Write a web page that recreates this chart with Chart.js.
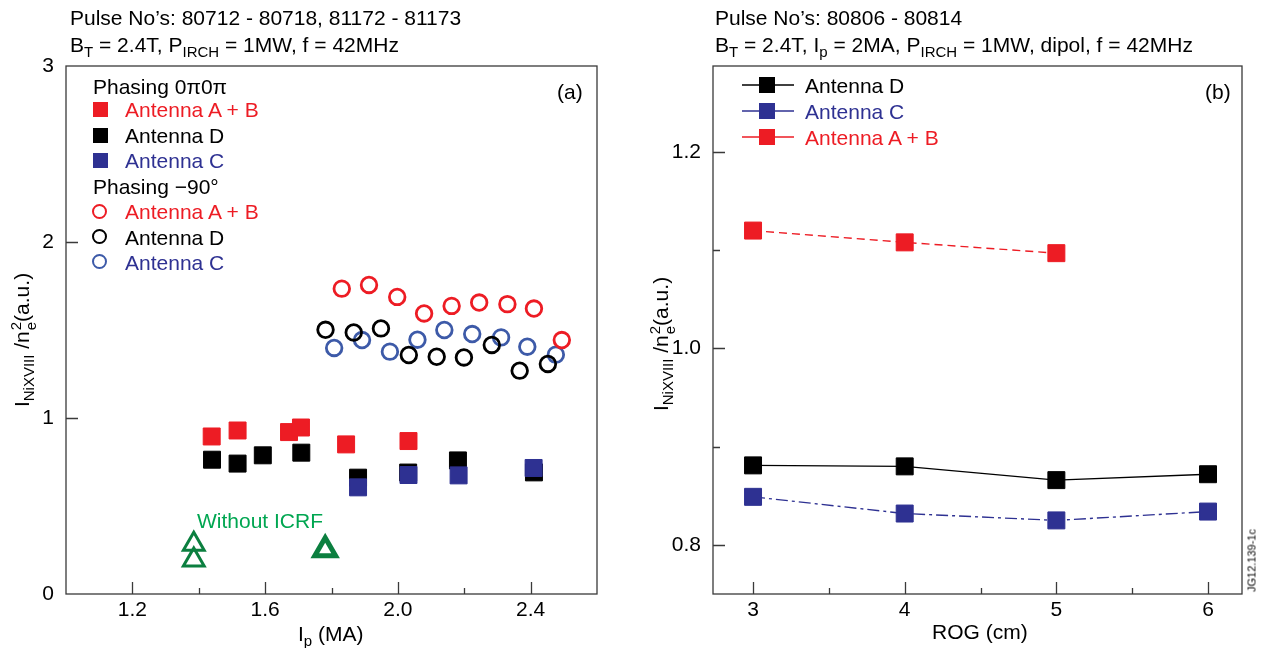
<!DOCTYPE html>
<html><head><meta charset="utf-8">
<script src="https://cdn.jsdelivr.net/npm/chart.js@4.4.0/dist/chart.umd.min.js"></script>
<style>
body{margin:0;width:1265px;height:648px;background:#fff;overflow:hidden;position:relative;font-family:"Liberation Sans",Arial,Helvetica,sans-serif}
canvas{position:absolute;top:0}
.t{position:absolute;font-size:21px;line-height:21px;color:#000;white-space:nowrap}
.s{font-size:15px;position:relative;top:5px}
.stack{display:inline-block;font-size:15px;line-height:15px;vertical-align:-7px;margin-left:1px}
.stack span{display:block}
.red{color:#ED1C24}.blu{color:#2E3192}.grn{color:#00A651}
.sq{position:absolute;width:15px;height:15px}
.ci{position:absolute;width:11px;height:11px;border:2px solid;border-radius:50%}
.rot{position:absolute;width:240px;text-align:center;transform:rotate(-90deg);font-size:21px;line-height:21px;white-space:nowrap}
</style></head>
<body>
<canvas id="ca" width="640" height="648" style="left:0"></canvas>
<canvas id="cb" width="625" height="648" style="left:640px"></canvas>

<!-- titles -->
<div class="t" style="left:70px;top:7px">Pulse No’s: 80712 - 80718, 81172 - 81173</div>
<div class="t" style="left:70px;top:34px">B<span class="s">T</span> = 2.4T, P<span class="s">IRCH</span> = 1MW, f = 42MHz</div>
<div class="t" style="left:715px;top:7px">Pulse No’s: 80806 - 80814</div>
<div class="t" style="left:715px;top:34px">B<span class="s">T</span> = 2.4T, I<span class="s">p</span> = 2MA, P<span class="s">IRCH</span> = 1MW, dipol, f = 42MHz</div>

<div class="t" style="left:557px;top:81px">(a)</div>
<div class="t" style="left:1205px;top:81px">(b)</div>

<!-- legend panel a -->
<div class="t" style="left:93px;top:76px">Phasing 0π0π</div>
<div class="sq" style="left:93px;top:102px;background:#ED1C24"></div>
<div class="t red" style="left:125px;top:99px">Antenna A + B</div>
<div class="sq" style="left:93px;top:128px;background:#000"></div>
<div class="t" style="left:125px;top:125px">Antenna D</div>
<div class="sq" style="left:93px;top:153px;background:#2E3192"></div>
<div class="t blu" style="left:125px;top:150px">Antenna C</div>
<div class="t" style="left:93px;top:176px">Phasing −90°</div>
<div class="ci" style="left:92px;top:204px;border-color:#ED1C24"></div>
<div class="t red" style="left:125px;top:201px">Antenna A + B</div>
<div class="ci" style="left:92px;top:229px;border-color:#000"></div>
<div class="t" style="left:125px;top:227px">Antenna D</div>
<div class="ci" style="left:92px;top:254px;border-color:#3D5AA8"></div>
<div class="t blu" style="left:125px;top:252px">Antenna C</div>

<div class="t grn" style="left:197px;top:510px">Without ICRF</div>

<!-- legend panel b -->
<svg style="position:absolute;left:742px;top:75px" width="52" height="20"><line x1="0" y1="10" x2="52" y2="10" stroke="#000" stroke-width="1.4"/><rect x="17" y="2" width="16" height="16" fill="#000"/></svg>
<div class="t" style="left:805px;top:75px">Antenna D</div>
<svg style="position:absolute;left:742px;top:101px" width="52" height="20"><line x1="0" y1="10" x2="52" y2="10" stroke="#2E3192" stroke-width="1.4"/><rect x="17" y="2" width="16" height="16" fill="#2E3192"/></svg>
<div class="t blu" style="left:805px;top:101px">Antenna C</div>
<svg style="position:absolute;left:742px;top:127px" width="52" height="20"><line x1="0" y1="10" x2="52" y2="10" stroke="#ED1C24" stroke-width="1.4"/><rect x="17" y="2" width="16" height="16" fill="#ED1C24"/></svg>
<div class="t red" style="left:805px;top:127px">Antenna A + B</div>

<!-- axis titles -->
<div class="t" style="left:298px;top:623px">I<span class="s">p</span> (MA)</div>
<div class="t" style="left:932px;top:621px">ROG (cm)</div>
<div class="rot" style="left:-97px;top:325px">I<span class="s">NiXVIII</span> /n<span class="stack"><span>2</span><span>e</span></span>(a.u.)</div>
<div class="rot" style="left:542px;top:329px">I<span class="s">NiXVIII</span> /n<span class="stack"><span>2</span><span>e</span></span>(a.u.)</div>
<div style="position:absolute;left:1212px;top:555px;width:80px;text-align:center;font-size:11px;line-height:11px;transform:rotate(-90deg);white-space:nowrap">JG12.139-1c</div>

<script>
// ---------- Panel (a) data: Ip (MA) vs I_NiXVIII/ne^2 ----------
const ipSqAB  = [1.439, 1.517, 1.672, 1.708, 1.844, 2.032];
const valSqAB = [0.895, 0.929, 0.920, 0.946, 0.850, 0.869];
const ipSqD   = [1.440, 1.517, 1.593, 1.709, 1.880, 2.031, 2.181, 2.410];
const valSqD  = [0.763, 0.741, 0.788, 0.803, 0.661, 0.690, 0.759, 0.691];
const ipSqC   = [1.880, 2.032, 2.183, 2.409];
const valSqC  = [0.606, 0.676, 0.674, 0.716];
const ipCiAB  = [1.831, 1.913, 1.998, 2.079, 2.162, 2.245, 2.330, 2.410, 2.494];
const valCiAB = [1.735, 1.756, 1.688, 1.594, 1.637, 1.656, 1.647, 1.622, 1.443];
const ipCiD   = [1.782, 1.867, 1.949, 2.033, 2.117, 2.199, 2.283, 2.367, 2.452];
const valCiD  = [1.501, 1.486, 1.509, 1.358, 1.348, 1.344, 1.415, 1.269, 1.307];
const ipCiC   = [1.808, 1.892, 1.976, 2.059, 2.140, 2.224, 2.311, 2.390, 2.476];
const valCiC  = [1.398, 1.443, 1.377, 1.445, 1.500, 1.477, 1.458, 1.405, 1.360];
const ipNoIcrf  = [1.385, 1.385, 1.781];
const valNoIcrf = [0.282, 0.193, 0.252];
const ipTicks = [1.2, 1.6, 2.0, 2.4];
const ipMinor = [1.4, 1.8, 2.2];
const yaTicks = [0, 1, 2, 3];

// ---------- Panel (b) data: ROG (cm) ----------
const rogCats = [3, 4, 5, 6];
const rogAB = [1.120, 1.108, 1.097];
const rogD  = [0.881, 0.880, 0.866, 0.872];
const rogC  = [0.849, 0.832, 0.825, 0.834];
const rogTicks = [3, 4, 5, 6];
const rogMinor = [3.5, 4.5, 5.5];
const ybTicks = [0.8, 1.0, 1.2];
const ybMinor = [0.9, 1.1];

const RED = '#ED1C24', BLK = '#000000', BLU = '#2E3192', BLU2 = '#3D5AA8', GRN = '#0B7F3F';
const FONT = {family: '"Liberation Sans", Arial, sans-serif', size: 21, lineHeight: 1};

const pts = (xs, ys) => xs.map((x, i) => ({x, y: ys[i]}));

function frame(xMaj, xMin, yMaj, yMin) {
  return {
    id: 'frame',
    beforeDatasetsDraw(chart) {
      const {ctx, chartArea: a, scales: {x, y}} = chart;
      ctx.save();
      ctx.strokeStyle = '#3a3a3a';
      ctx.lineWidth = 1.3;
      ctx.strokeRect(a.left, a.top, a.right - a.left, a.bottom - a.top);
      ctx.beginPath();
      const vx = (v, len) => { const p = Math.round(x.getPixelForValue(v)) + 0.5; ctx.moveTo(p, a.bottom); ctx.lineTo(p, a.bottom - len); };
      const vy = (v, len) => { const p = Math.round(y.getPixelForValue(v)) + 0.5; ctx.moveTo(a.left, p); ctx.lineTo(a.left + len, p); };
      xMaj.forEach(v => vx(v, 12)); xMin.forEach(v => vx(v, 6));
      yMaj.forEach(v => vy(v, 12)); yMin.forEach(v => vy(v, 7));
      ctx.stroke();
      ctx.restore();
    }
  };
}

function axes(xmin, xmax, xt, xfmt, ymin, ymax, yt, yfmt, yw) {
  return {
    x: {type: 'linear', min: xmin, max: xmax,
        grid: {display: false}, border: {display: false},
        afterBuildTicks: s => { s.ticks = xt.map(v => ({value: v})); },
        afterFit: s => { s.height = 54; },
        ticks: {color: '#000', font: FONT, padding: -2, maxRotation: 0, autoSkip: false, callback: xfmt}},
    y: {type: 'linear', min: ymin, max: ymax,
        grid: {display: false}, border: {display: false},
        afterBuildTicks: s => { s.ticks = yt.map(v => ({value: v})); },
        afterFit: s => { s.width = yw; },
        ticks: {color: '#000', font: FONT, padding: 4, autoSkip: false, callback: yfmt}}
  };
}

const common = {
  responsive: false, animation: false, devicePixelRatio: 1,
  plugins: {legend: {display: false}, tooltip: {enabled: false}}
};

// ---------- Chart (a) ----------
const sq = (label, data, color, order) => ({label, data, order, showLine: false, pointStyle: 'rect', pointRadius: 12,
  backgroundColor: color, borderColor: color, borderWidth: 1});
const ci = (label, data, color, order) => ({label, data, order, showLine: false, pointStyle: 'circle', pointRadius: 7.8,
  backgroundColor: 'rgba(0,0,0,0)', borderColor: color, borderWidth: 2.8});

new Chart(document.getElementById('ca'), {
  type: 'scatter',
  data: {datasets: [
    sq('0π0π Antenna A + B', pts(ipSqAB, valSqAB), RED, 1),
    sq('0π0π Antenna C', pts(ipSqC, valSqC), BLU, 2),
    sq('0π0π Antenna D', pts(ipSqD, valSqD), BLK, 3),
    ci('−90° Antenna A + B', pts(ipCiAB, valCiAB), RED, 4),
    ci('−90° Antenna D', pts(ipCiD, valCiD), BLK, 5),
    ci('−90° Antenna C', pts(ipCiC, valCiC), BLU2, 6),
    {label: 'Without ICRF', data: pts(ipNoIcrf, valNoIcrf), order: 7, showLine: false, pointStyle: 'triangle',
     pointRadius: 12, backgroundColor: 'rgba(0,0,0,0)', borderColor: GRN,
     pointBorderWidth: ctx => (ctx.dataIndex === 2 ? 5 : 3)}
  ]},
  options: {...common,
    layout: {padding: {left: 0, top: 66, right: 43, bottom: 0}},
    scales: axes(1.0, 2.6, ipTicks, v => v.toFixed(1), 0, 3, yaTicks, v => String(v), 66)},
  plugins: [frame(ipTicks, ipMinor, [1, 2], [])]
});

// ---------- Chart (b) ----------
const ln = (label, ys, color, dash, order) => ({label, data: pts(rogCats, ys), order, showLine: true,
  borderColor: color, backgroundColor: color, borderWidth: 1.4, borderDash: dash,
  pointStyle: 'rect', pointRadius: 12, pointBorderWidth: 1, pointBackgroundColor: color, pointBorderColor: color});

new Chart(document.getElementById('cb'), {
  type: 'scatter',
  data: {datasets: [
    ln('Antenna D', rogD, BLK, [], 1),
    ln('Antenna C', rogC, BLU, [12, 4, 3, 4], 2),
    ln('Antenna A + B', rogAB, RED, [8, 5], 3)
  ]},
  options: {...common,
    layout: {padding: {left: 0, top: 66, right: 23, bottom: 0}},
    scales: axes(2.736, 6.224, rogTicks, v => String(v), 0.7501, 1.2875, ybTicks, v => v.toFixed(1), 73)},
  plugins: [frame(rogTicks, rogMinor, ybTicks, ybMinor)]
});
</script>
</body></html>
